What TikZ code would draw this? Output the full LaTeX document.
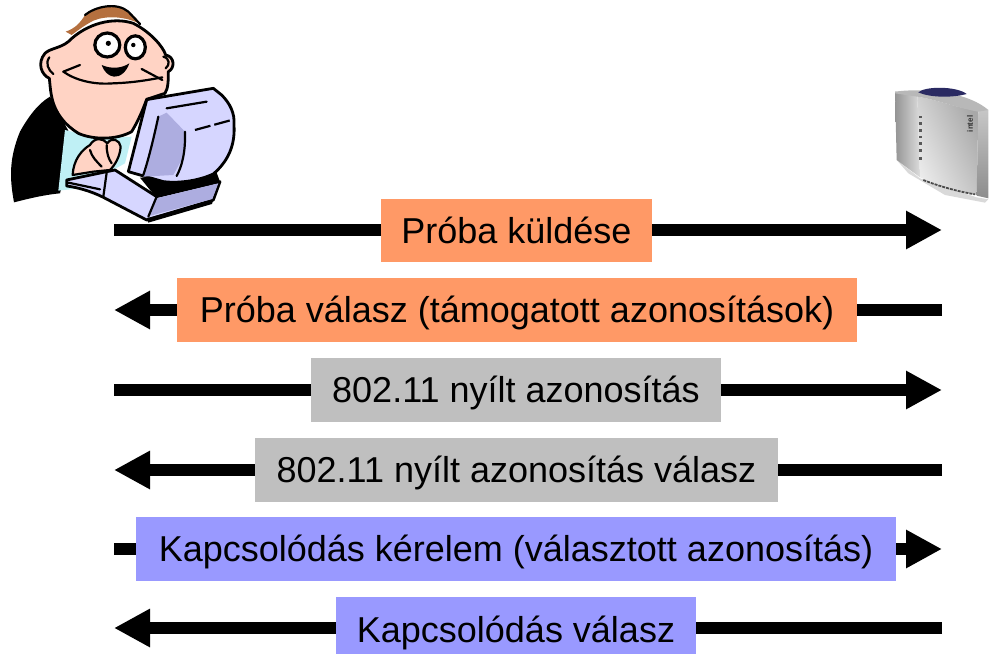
\documentclass[tikz,border=0pt]{standalone}
\usepackage{fontspec}
\setmainfont{Liberation Sans}
\usetikzlibrary{arrows.meta,calc}
\definecolor{orangebox}{HTML}{FF9966}
\definecolor{greybox}{HTML}{BFBFBF}
\definecolor{bluebox}{HTML}{9999FF}
\definecolor{skinc}{HTML}{FFD3C4}
\definecolor{hairc}{HTML}{B5703F}
\definecolor{shirtc}{HTML}{BFF0F5}
\definecolor{pclight}{HTML}{D6D6FF}
\definecolor{pcdark}{HTML}{ADADE0}
\definecolor{srvnavy}{HTML}{2A2A62}
\tikzset{
  msg/.style={line width=12pt,-{Triangle[length=36pt,width=36pt]},shorten >=0pt,shorten <=0pt},
  lab/.style={inner sep=0pt,outer sep=0pt,text=black,font=\fontsize{36}{38}\selectfont,anchor=north},
  outl/.style={draw=black,line width=2.8pt,line join=round,line cap=round},
  thinl/.style={draw=black,line width=2.2pt,line cap=round,line join=round},
}
\begin{document}
\begin{tikzpicture}[x=1pt,y=-1pt]
\useasboundingbox (0,0) rectangle (991,654);
% man
\begin{scope}[x=0.3333pt,y=-0.3333pt]
\fill[black] (42,607) .. controls (30,540) and (25,480) .. (60,395) .. controls (85,350) and (115,310) .. (150,290) -- (220,420) -- (180,580) .. controls (130,585) and (90,595) .. cycle;
\fill[shirtc] (195,390) -- (175,572) -- (240,565) -- (375,490) -- (395,410) -- (300,415) -- cycle;
\draw[outl,fill=skinc] (205,125) .. controls (260,70) and (340,50) .. (400,70) .. controls (450,95) and (490,140) .. (497,165) .. controls (525,170) and (525,205) .. (505,215) .. controls (505,240) and (505,265) .. (495,280) -- (440,298) .. controls (425,340) and (410,370) .. (395,395) .. controls (350,420) and (280,420) .. (235,400) .. controls (195,375) and (165,340) .. (155,290) .. controls (150,265) and (150,250) .. (148,235) .. controls (125,225) and (110,190) .. (135,160) .. controls (150,145) and (180,145) .. (205,125) -- cycle;
\fill[hairc] (197,95) .. controls (225,85) and (240,70) .. (255,45) .. controls (285,20) and (350,5) .. (385,35) .. controls (400,45) and (415,60) .. (420,72) .. controls (380,50) and (320,45) .. (280,62) .. controls (255,75) and (235,90) .. (215,105) -- cycle;
\draw[thinl] (255,45) .. controls (285,20) and (350,5) .. (385,35) -- (420,72);
\draw[thinl] (148,172) .. controls (135,190) and (145,210) .. (160,222);
\draw[thinl] (490,170) .. controls (510,175) and (510,195) .. (497,205);
% eyes
\draw[black,line width=3.2pt,fill=white] (322,135) ellipse (12.5pt and 12pt);
\draw[black,line width=3.2pt,fill=white] (406,142) ellipse (10pt and 11.5pt);
\fill[black] (325,130) circle (2.6pt);
\fill[black] (400,135) circle (2.2pt);
% smile
\draw[black,line width=2.2pt,line cap=round] (190,215) .. controls (225,240) and (280,255) .. (340,250) .. controls (400,248) and (445,240) .. (487,232);
\draw[thinl] (190,215) -- (240,195);
\draw[thinl] (425,207) -- (487,240);
\fill[black] (305,195) .. controls (335,208) and (365,205) .. (388,190) .. controls (380,215) and (360,232) .. (342,230) .. controls (325,228) and (312,215) .. cycle;
% keyboard / base
\draw[outl,fill=pclight] (200,540) -- (320,515) -- (345,510) -- (470,590) -- (660,545) -- (640,600) -- (440,660) -- (310,592) .. controls (270,572) and (230,562) .. (200,558) -- cycle;
\fill[pcdark] (448,648) -- (470,595) -- (655,550) -- (637,597) -- cycle;
\draw[thinl] (320,518) -- (310,590);
\draw[thinl] (470,590) -- (445,650);
\draw[thinl] (205,548) -- (300,568);
\fill[black] (440,655) -- (640,600) -- (636,612) -- (445,668) -- cycle;
\fill[black] (420,533) -- (650,518) -- (660,545) -- (465,588) -- cycle;
% hands
\draw[thinl,fill=skinc] (218,525) .. controls (220,480) and (245,450) .. (270,435) .. controls (285,410) and (310,415) .. (322,430) .. controls (335,410) and (360,420) .. (362,440) .. controls (360,470) and (345,495) .. (330,510) -- (280,515) -- cycle;
\draw[thinl] (270,450) .. controls (275,470) and (290,485) .. (305,500);
\draw[thinl] (320,435) .. controls (320,460) and (325,475) .. (335,490);
% monitor
\draw[outl,fill=pclight] (445,298) -- (640,265) -- (665,285) .. controls (690,310) and (705,340) .. (702,375) .. controls (705,420) and (695,475) .. (640,522) .. controls (590,545) and (530,550) .. (490,545) -- (385,515) -- (440,300) -- cycle;
\fill[pcdark] (475,350) -- (500,338) -- (555,395) -- (550,470) -- (520,525) -- (430,530) -- cycle;
\draw[thinl] (500,325) -- (620,305);
\draw[black,line width=2.2pt,dash pattern=on 16pt off 4pt] (585,390) -- (695,360);
\draw[thinl] (475,350) .. controls (460,420) and (445,480) .. (430,525);
\draw[thinl] (555,395) .. controls (557,460) and (545,500) .. (530,528);
\end{scope}
% server
\begin{scope}[shift={(885,80)},x=0.3333pt,y=-0.3333pt]
\fill[black!15] (35,240) -- (105,295) -- (275,352) -- (310,358) -- (300,368) -- (180,345) -- (70,280) -- cycle;
\shade[left color=black!42,right color=black!14] (30,35) -- (97,45) -- (105,292) -- (35,240) -- cycle;
\shade[left color=black!8,right color=black!34,shading angle=115] (97,50) .. controls (160,60) and (220,85) .. (280,92) -- (275,345) .. controls (220,335) and (160,315) .. (105,292) -- cycle;
\shade[top color=black!22,bottom color=black!45] (280,88) -- (310,90) -- (310,355) -- (275,347) -- cycle;
\fill[black!28] (30,35) .. controls (100,25) and (240,30) .. (310,90) -- (280,95) .. controls (220,85) and (160,60) .. (97,50) -- (30,40) -- cycle;
\fill[srvnavy] (100,37) .. controls (120,18) and (215,18) .. (245,42) .. controls (210,52) and (140,55) .. cycle;
\draw[black!70,line width=1.8pt,dash pattern=on 3pt off 1pt] (115,300) .. controls (160,318) and (220,335) .. (270,343);
\foreach \yy in {115,135,155,175,195,215,240}{\fill[black!65] (102,\yy) rectangle ++(3.4pt,2.8pt);}
\node[rotate=90,inner sep=0pt,text=black!80,font=\bfseries\fontsize{8}{8}\selectfont] (intel) at (255,132) {intel};
\end{scope}
% coordinates and arrows
\foreach \n/\y in {a/230,b/310,c/390,d/470,e/549,f/628}{
  \coordinate (\n L) at (114,\y);
  \coordinate (\n R) at (942,\y);
}
\draw[msg] (aL) -- (aR);
\draw[msg] (bR) -- (bL);
\draw[msg] (cL) -- (cR);
\draw[msg] (dR) -- (dL);
\draw[msg] (eL) -- (eR);
\draw[msg] (fR) -- (fL);
% labels
\node[lab,fill=orangebox,minimum width=271pt,text height=44pt,text depth=19pt] (la) at (516.5,199) {Próba küldése};
\node[lab,fill=orangebox,minimum width=680pt,text height=44pt,text depth=20pt] (lb) at (517,278) {Próba válasz (támogatott azonosítások)};
\node[lab,fill=greybox,minimum width=410pt,text height=44pt,text depth=20pt] (lc) at (516,358) {802.11 nyílt azonosítás};
\node[lab,fill=greybox,minimum width=523pt,text height=44pt,text depth=20pt] (ld) at (516.5,438) {802.11 nyílt azonosítás válasz};
\node[lab,fill=bluebox,minimum width=760pt,text height=44pt,text depth=20pt] (le) at (516,517) {Kapcsolódás kérelem (választott azonosítás)};
\node[lab,fill=bluebox,minimum width=360pt,text height=45pt,text depth=12pt] (lf) at (516,597) {Kapcsolódás válasz};
\end{tikzpicture}
\end{document}
